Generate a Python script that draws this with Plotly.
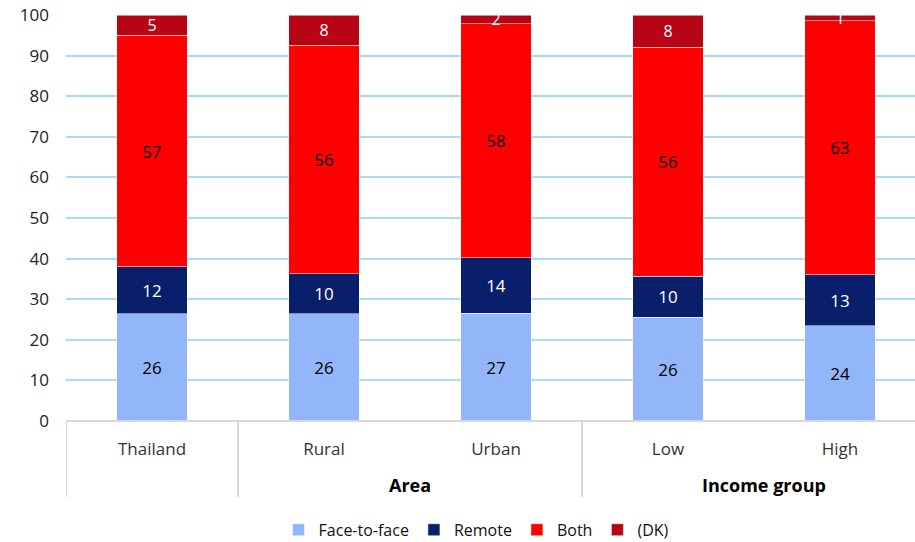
import plotly.graph_objects as go

categories = ["Thailand", "Rural", "Urban", "Low", "High"]
groups = ["", "Area", "Area", "Income group", "Income group"]

face = [26.4, 26.4, 26.6, 25.5, 23.5]
remote = [11.6, 9.9, 13.6, 10.2, 12.5]
both = [57.0, 56.2, 57.7, 56.3, 62.6]
dk = [5.0, 7.5, 2.1, 8.0, 1.4]

face_lbl = ["26", "26", "27", "26", "24"]
remote_lbl = ["12", "10", "14", "10", "13"]
both_lbl = ["57", "56", "58", "56", "63"]
dk_lbl = ["5", "8", "2", "8", "1"]

FONT = "Open Sans"
x = list(range(len(categories)))

series = [
    ("Face-to-face", face, face_lbl, "#93b5fa", "#000000", 17),
    ("Remote", remote, remote_lbl, "#0a1f6b", "#ffffff", 17),
    ("Both", both, both_lbl, "#ff0000", "#000000", 17),
    ("(DK)", dk, dk_lbl, "#b80515", "#ffffff", 16),
]

fig = go.Figure()
for name, vals, lbl, col, tcol, fs in series:
    fig.add_trace(go.Bar(
        x=x, y=vals, name=name, text=lbl,
        textposition="inside", insidetextanchor="middle",
        textangle=0, constraintext="none", cliponaxis=False,
        textfont=dict(family=FONT, size=fs, color=tcol),
        marker=dict(color=col, line=dict(color="rgba(255,255,255,0.5)", width=1)),
        width=0.41,
    ))

fig.update_layout(
    barmode="stack",
    width=915, height=542,
    margin=dict(l=66, r=0, t=15, b=121, autoexpand=False),
    plot_bgcolor="white", paper_bgcolor="white",
    font=dict(family=FONT, color="#222222"),
    legend=dict(orientation="h", x=0.483, xanchor="center", y=-0.268, yanchor="middle",
                font=dict(size=16, color="#111111"), traceorder="normal",
                itemwidth=30, tracegroupgap=0),
    xaxis=dict(range=[-0.5, 4.436], tickvals=x, ticktext=categories,
               showgrid=False, zeroline=False, showline=False, automargin=False,
               ticks="", tickfont=dict(size=17, color="#333333"),
               ticklabelstandoff=16),
    yaxis=dict(range=[0, 100], dtick=10, showgrid=True, gridcolor="#a8dcf2",
               gridwidth=1.5, zeroline=False, showline=False, ticks="", automargin=False,
               tickfont=dict(size=17, color="#222222"), ticklabelstandoff=16),
)

# axis baseline and group separators
fig.add_shape(type="line", xref="paper", yref="paper", x0=0, x1=1, y0=0, y1=0,
              line=dict(color="#d9d9d9", width=2))
for xs in [-0.5, 0.5, 2.5]:
    fig.add_shape(type="line", xref="x", yref="paper", x0=xs, x1=xs, y0=0, y1=-0.187,
                  line=dict(color="#d9d9d9", width=2))

fig.add_annotation(x=1.5, xref="x", y=-0.158, yref="paper", text="<b>Area</b>",
                   showarrow=False, font=dict(size=18, color="#000000"), yanchor="middle")
fig.add_annotation(x=3.56, xref="x", y=-0.158, yref="paper", text="<b>Income group</b>",
                   showarrow=False, font=dict(size=18, color="#000000"), yanchor="middle")

fig.write_html("out.html", config={"displayModeBar": False},
               post_script="document.body.style.margin='0';")
